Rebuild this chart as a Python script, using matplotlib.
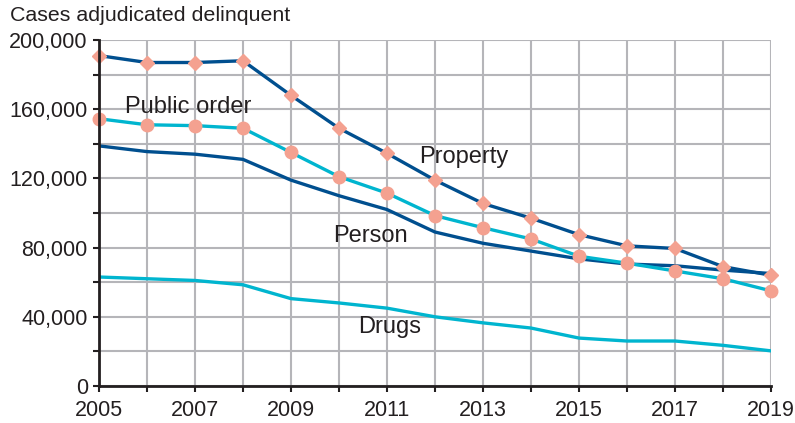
import matplotlib
matplotlib.use("Agg")
import matplotlib.pyplot as plt
from matplotlib.ticker import MultipleLocator, FixedLocator, FuncFormatter

plt.rcParams['font.family'] = ['Liberation Sans', 'DejaVu Sans']
plt.rcParams['xtick.labelsize'] = 15.5
plt.rcParams['ytick.labelsize'] = 15.5

years = list(range(2005, 2020))
year_labels = [2005, 2007, 2009, 2011, 2013, 2015, 2017, 2019]
property_cases = [191000, 187000, 187000, 188000, 168000, 149000, 134500, 119000,
                  105500, 97000, 87500, 81000, 79500, 69000, 64000]
public_order = [154500, 151000, 150500, 149000, 135000, 121000, 111500, 98500,
                91500, 85000, 75000, 71000, 66500, 62000, 55000]
person = [138800, 135500, 134000, 131000, 119000, 110000, 102000, 89000,
          82500, 78000, 73500, 70500, 69500, 67000, 65000]
drugs = [63000, 62000, 61000, 58500, 50500, 48000, 45000, 40000,
         36500, 33500, 27700, 26000, 26000, 23500, 20300]

dark = "#004f8f"
cyan = "#00b5cf"
salmon = "#f4a190"
ink = "#231f20"
grid_c = "#b5b5b9"

fig = plt.figure(figsize=(7.95, 4.23), dpi=100)
ax = fig.add_axes([0.1245, 0.0875, 0.8453, 0.8179])

ax.plot(years, drugs, color=cyan, lw=2.4, zorder=3)
ax.plot(years, person, color=dark, lw=2.4, zorder=3)
ax.plot(years, public_order, color=cyan, lw=2.4, zorder=4)
ax.plot(years, public_order, ls="none", marker="o", ms=9, color=salmon, zorder=5, clip_on=False)
ax.plot(years, property_cases, color=dark, lw=2.4, zorder=4)
ax.plot(years, property_cases, ls="none", marker="D", ms=7.5, color=salmon, zorder=5, clip_on=False)

ax.set_xlim(2005, 2019)
ax.set_ylim(0, 200000)
ax.xaxis.set_major_locator(FixedLocator(year_labels))
ax.xaxis.set_minor_locator(FixedLocator(years))
ax.yaxis.set_major_locator(MultipleLocator(40000))
ax.yaxis.set_minor_locator(MultipleLocator(20000))
ax.yaxis.set_major_formatter(FuncFormatter(lambda v, p: f"{int(v):,}"))
ax.grid(True, which="both", color=grid_c, lw=1.5, zorder=1)
ax.set_axisbelow(True)

for s in ["top", "right"]:
    ax.spines[s].set_visible(False)
for s in ["left", "bottom"]:
    ax.spines[s].set_color(ink)
    ax.spines[s].set_linewidth(2)
    ax.spines[s].set_zorder(6)

ax.tick_params(which="both", direction="out", length=4, width=1.5, color=ink,
               labelcolor=ink)
ax.tick_params(axis="x", which="major", pad=6, labelsize=15.5)
ax.tick_params(axis="y", which="major", pad=4, labelsize=15.5)

fig.text(0.012, 0.985, "Cases adjudicated delinquent", fontsize=15.4, color=ink,
         ha="left", va="top")

lab = dict(fontsize=17, color=ink, ha="center", va="center", zorder=7)
ax.text(2006.85, 161500, "Public order", **lab)
ax.text(2012.6, 132500, "Property", **lab)
ax.text(2010.65, 86500, "Person", **lab)
ax.text(2011.05, 34000, "Drugs", **lab)

plt.savefig("out.png")
